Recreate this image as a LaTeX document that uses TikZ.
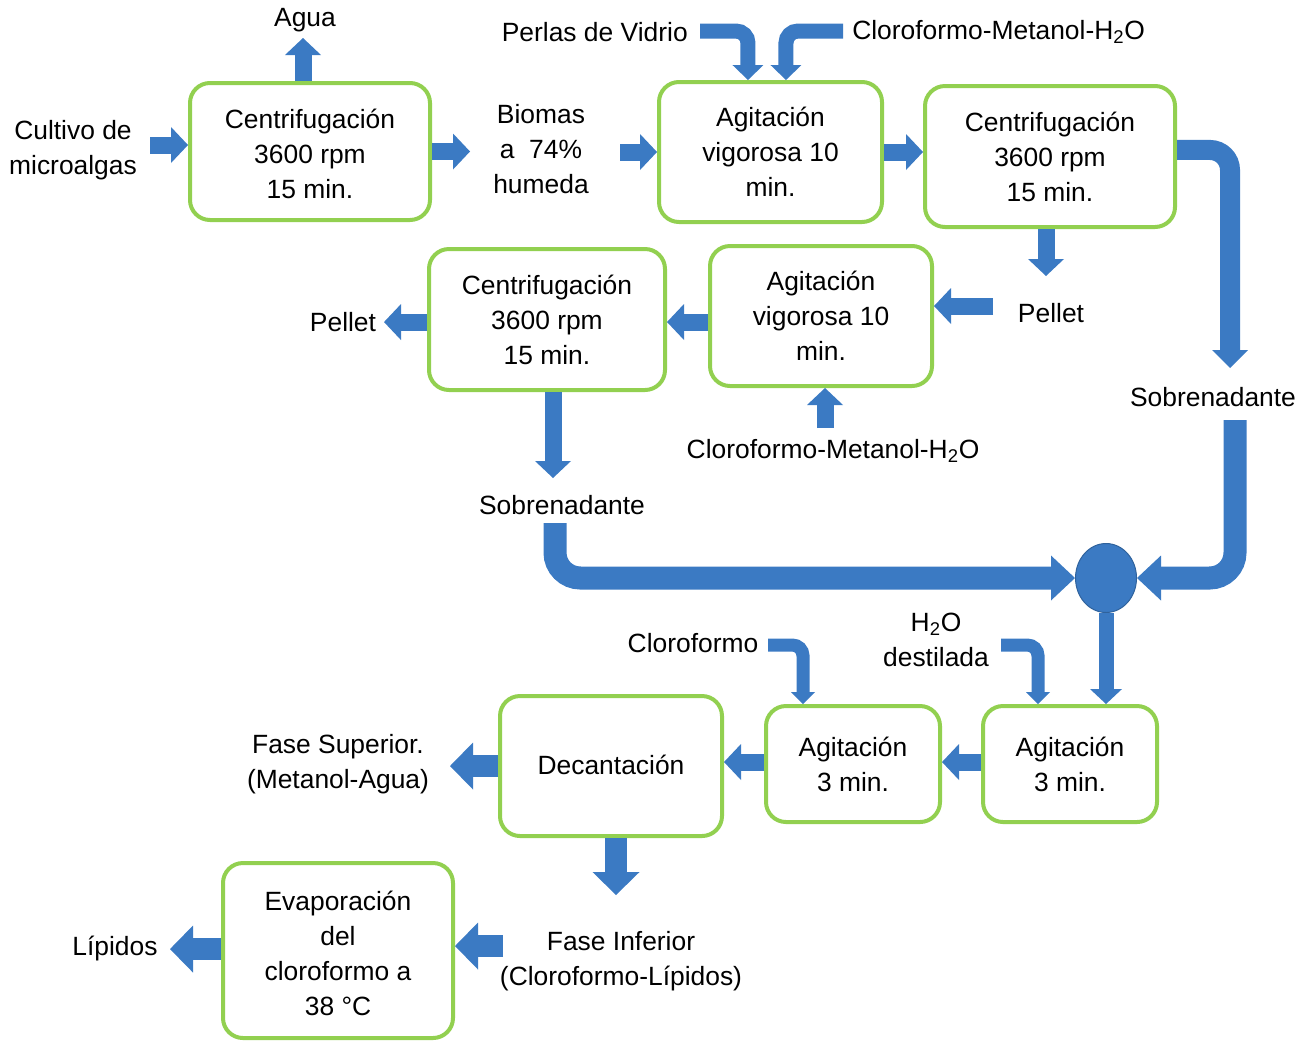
\documentclass[tikz,border=0pt]{standalone}
\usepackage{fontspec}
\setmainfont{Liberation Sans}
\usetikzlibrary{arrows.meta,shapes.geometric}
\definecolor{ablue}{RGB}{59,122,195}
\definecolor{bgreen}{RGB}{146,208,80}
\begin{document}
\begin{tikzpicture}[x=0.75pt,y=-0.75pt,
 every node/.style={font=\fontsize{19.8}{26.25}\selectfont, align=center, inner sep=0pt},
 box/.style={draw=bgreen, line width=3pt, rounded corners=15pt},
 sm/.style={draw=ablue, line width=12.75pt, -{Triangle[length=12.75pt,width=27pt,line width=0pt]}},
 lg/.style={draw=ablue, line width=16.5pt, -{Triangle[length=17.25pt,width=35.25pt,line width=0pt]}},
 bta/.style={draw=ablue, line width=11.25pt, rounded corners=9pt, -{Triangle[length=11.25pt,width=23.25pt,line width=0pt]}},
 btb/.style={draw=ablue, line width=9.75pt, rounded corners=8pt, -{Triangle[length=9pt,width=18pt,line width=0pt]}},
 pipea/.style={draw=ablue, line width=15pt, rounded corners=15pt, -{Triangle[length=13.5pt,width=27pt,line width=0pt]}},
 pipeb/.style={draw=ablue, line width=17.25pt, rounded corners=19pt, -{Triangle[length=18pt,width=33.75pt,line width=0pt]}},
 dn/.style={draw=ablue, line width=11.25pt, -{Triangle[length=11.25pt,width=24pt,line width=0pt]}}
]
\useasboundingbox (0,0) rectangle (1316,1040);

% boxes
\node[box, minimum width=180pt, minimum height=102.75pt] (b1) at (310,151.5) {\rule{0pt}{18.5pt}Centrifugación\\3600 rpm\\15 min.};
\node[box, minimum width=167.25pt, minimum height=105pt] (b2) at (770.5,152) {Agitación\\vigorosa 10\\min.};
\node[box, minimum width=187.5pt, minimum height=105.75pt] (b3) at (1050,156.5) {Centrifugación\\3600 rpm\\15 min.};
\node[box, minimum width=166.5pt, minimum height=105pt] (b4) at (821,316) {Agitación\\vigorosa 10\\min.};
\node[box, minimum width=177pt, minimum height=105.75pt] (b5) at (547,319.5) {Centrifugación\\3600 rpm\\15 min.};
\node[box, minimum width=130.5pt, minimum height=87pt] (b6) at (1070,764) {Agitación\\3 min.};
\node[box, minimum width=130.5pt, minimum height=87pt] (b7) at (853,764) {Agitación\\3 min.};
\node[box, minimum width=166.5pt, minimum height=105pt] (b8) at (611,766) {\raisebox{1.5pt}{Decantación}};
\node[box, minimum width=172.5pt, minimum height=131.25pt] (b9) at (338,950.5) {\rule{0pt}{18.5pt}Evaporación\\del\\cloroformo a\\38 °C};

% junction
\node[ellipse, fill=ablue, draw=ablue!80!black, line width=0.75pt, minimum width=45.75pt, minimum height=51.75pt] (circ) at (1106,578) {};

% labels
\node (agua) at (305,20) {Agua};
\node (cult) at (73,150) {Cultivo de\\microalgas};
\node (biom) at (541,149) {Biomas\\a\ \ 74\%\\humeda};
\node[anchor=east] (perl) at (688,32) {Perlas de Vidrio};
\node[anchor=west] (cmh1) at (852,32) {Cloroformo-Metanol-H\textsubscript{2}O};
\node (pel1) at (1051,313) {Pellet};
\node (pel2) at (343,322) {Pellet};
\node (sob1) at (1213,397) {Sobrenadante};
\node (cmh2) at (833,451) {Cloroformo-Metanol-H\textsubscript{2}O};
\node (sob2) at (562,505) {Sobrenadante};
\node (h2o) at (936,640) {H\textsubscript{2}O\\destilada};
\node (clor) at (693,643) {Cloroformo};
\node (fsup) at (338,764) {Fase Superior.\\(Metanol-Agua)};
\node (finf) at (621,961) {Fase Inferior\\(Cloroformo-Lípidos)};
\node (lip) at (115,948) {Lípidos};

% free ends
\coordinate (c1) at (150,145);
\coordinate (c4) at (620,152);
\coordinate (p1) at (700,31);
\coordinate (p2) at (843,31);
\coordinate (s8) at (993,306);
\coordinate (u11) at (825,428);
\coordinate (r1) at (1230,368);
\coordinate (r2) at (1235,420);
\coordinate (l1) at (555,523);
\coordinate (k1) at (768,645);
\coordinate (k2) at (1001,645);
\coordinate (fi) at (503,946);

% connectors
\draw[sm] (c1) -- (c1 -| b1.west);
\draw[sm] ([xshift=-5.25pt]b1.north) -- ++(0,-43);
\draw[sm] (b1.east) -- ++(38,0);
\draw[sm] (c4) -- (c4 -| b2.west);
\draw[sm] (b2.east) -- (b2.east -| b3.west);
\draw[bta] (p1) -| ([xshift=-16.9pt]b2.north);
\draw[bta] (p2) -| ([xshift=11.6pt]b2.north);
\draw[sm] ([xshift=-3pt]b3.south) -- ++(0,47);
\draw[sm] (s8) -- (s8 -| b4.east);
\draw[sm] ([yshift=-4.5pt]b4.west) -- ([yshift=-4.5pt]b4.west -| b5.east);
\draw[sm] ([yshift=-1.9pt]b5.west) -- ++(-43,0);
\draw[sm] (u11) -- (u11 |- b4.south);
\draw[sm] ([xshift=4.5pt]b5.south) -- ++(0,86);
\draw[pipea] ([yshift=4.9pt]b3.east) -| (r1);
\draw[pipeb] (r2) |- (circ.east);
\draw[pipeb] (l1) |- (circ.west);
\draw[dn] (circ.south) -- (circ.south |- b6.north);
\draw[btb] (k1) -| ([xshift=-37.5pt]b7.north);
\draw[btb] (k2) -| ([xshift=-24pt]b6.north);
\draw[sm] ([yshift=1.5pt]b6.west) -- ([yshift=1.5pt]b6.west -| b7.east);
\draw[sm] ([yshift=1.5pt]b7.west) -- ([yshift=1.5pt]b7.west -| b8.east);
\draw[lg] (b8.west) -- ++(-48,0);
\draw[lg] ([xshift=3.75pt]b8.south) -- ++(0,57);
\draw[lg] (fi) -- (fi -| b9.east);
\draw[lg] ([yshift=1.1pt]b9.west) -- ++(-51,0);
\end{tikzpicture}
\end{document}
